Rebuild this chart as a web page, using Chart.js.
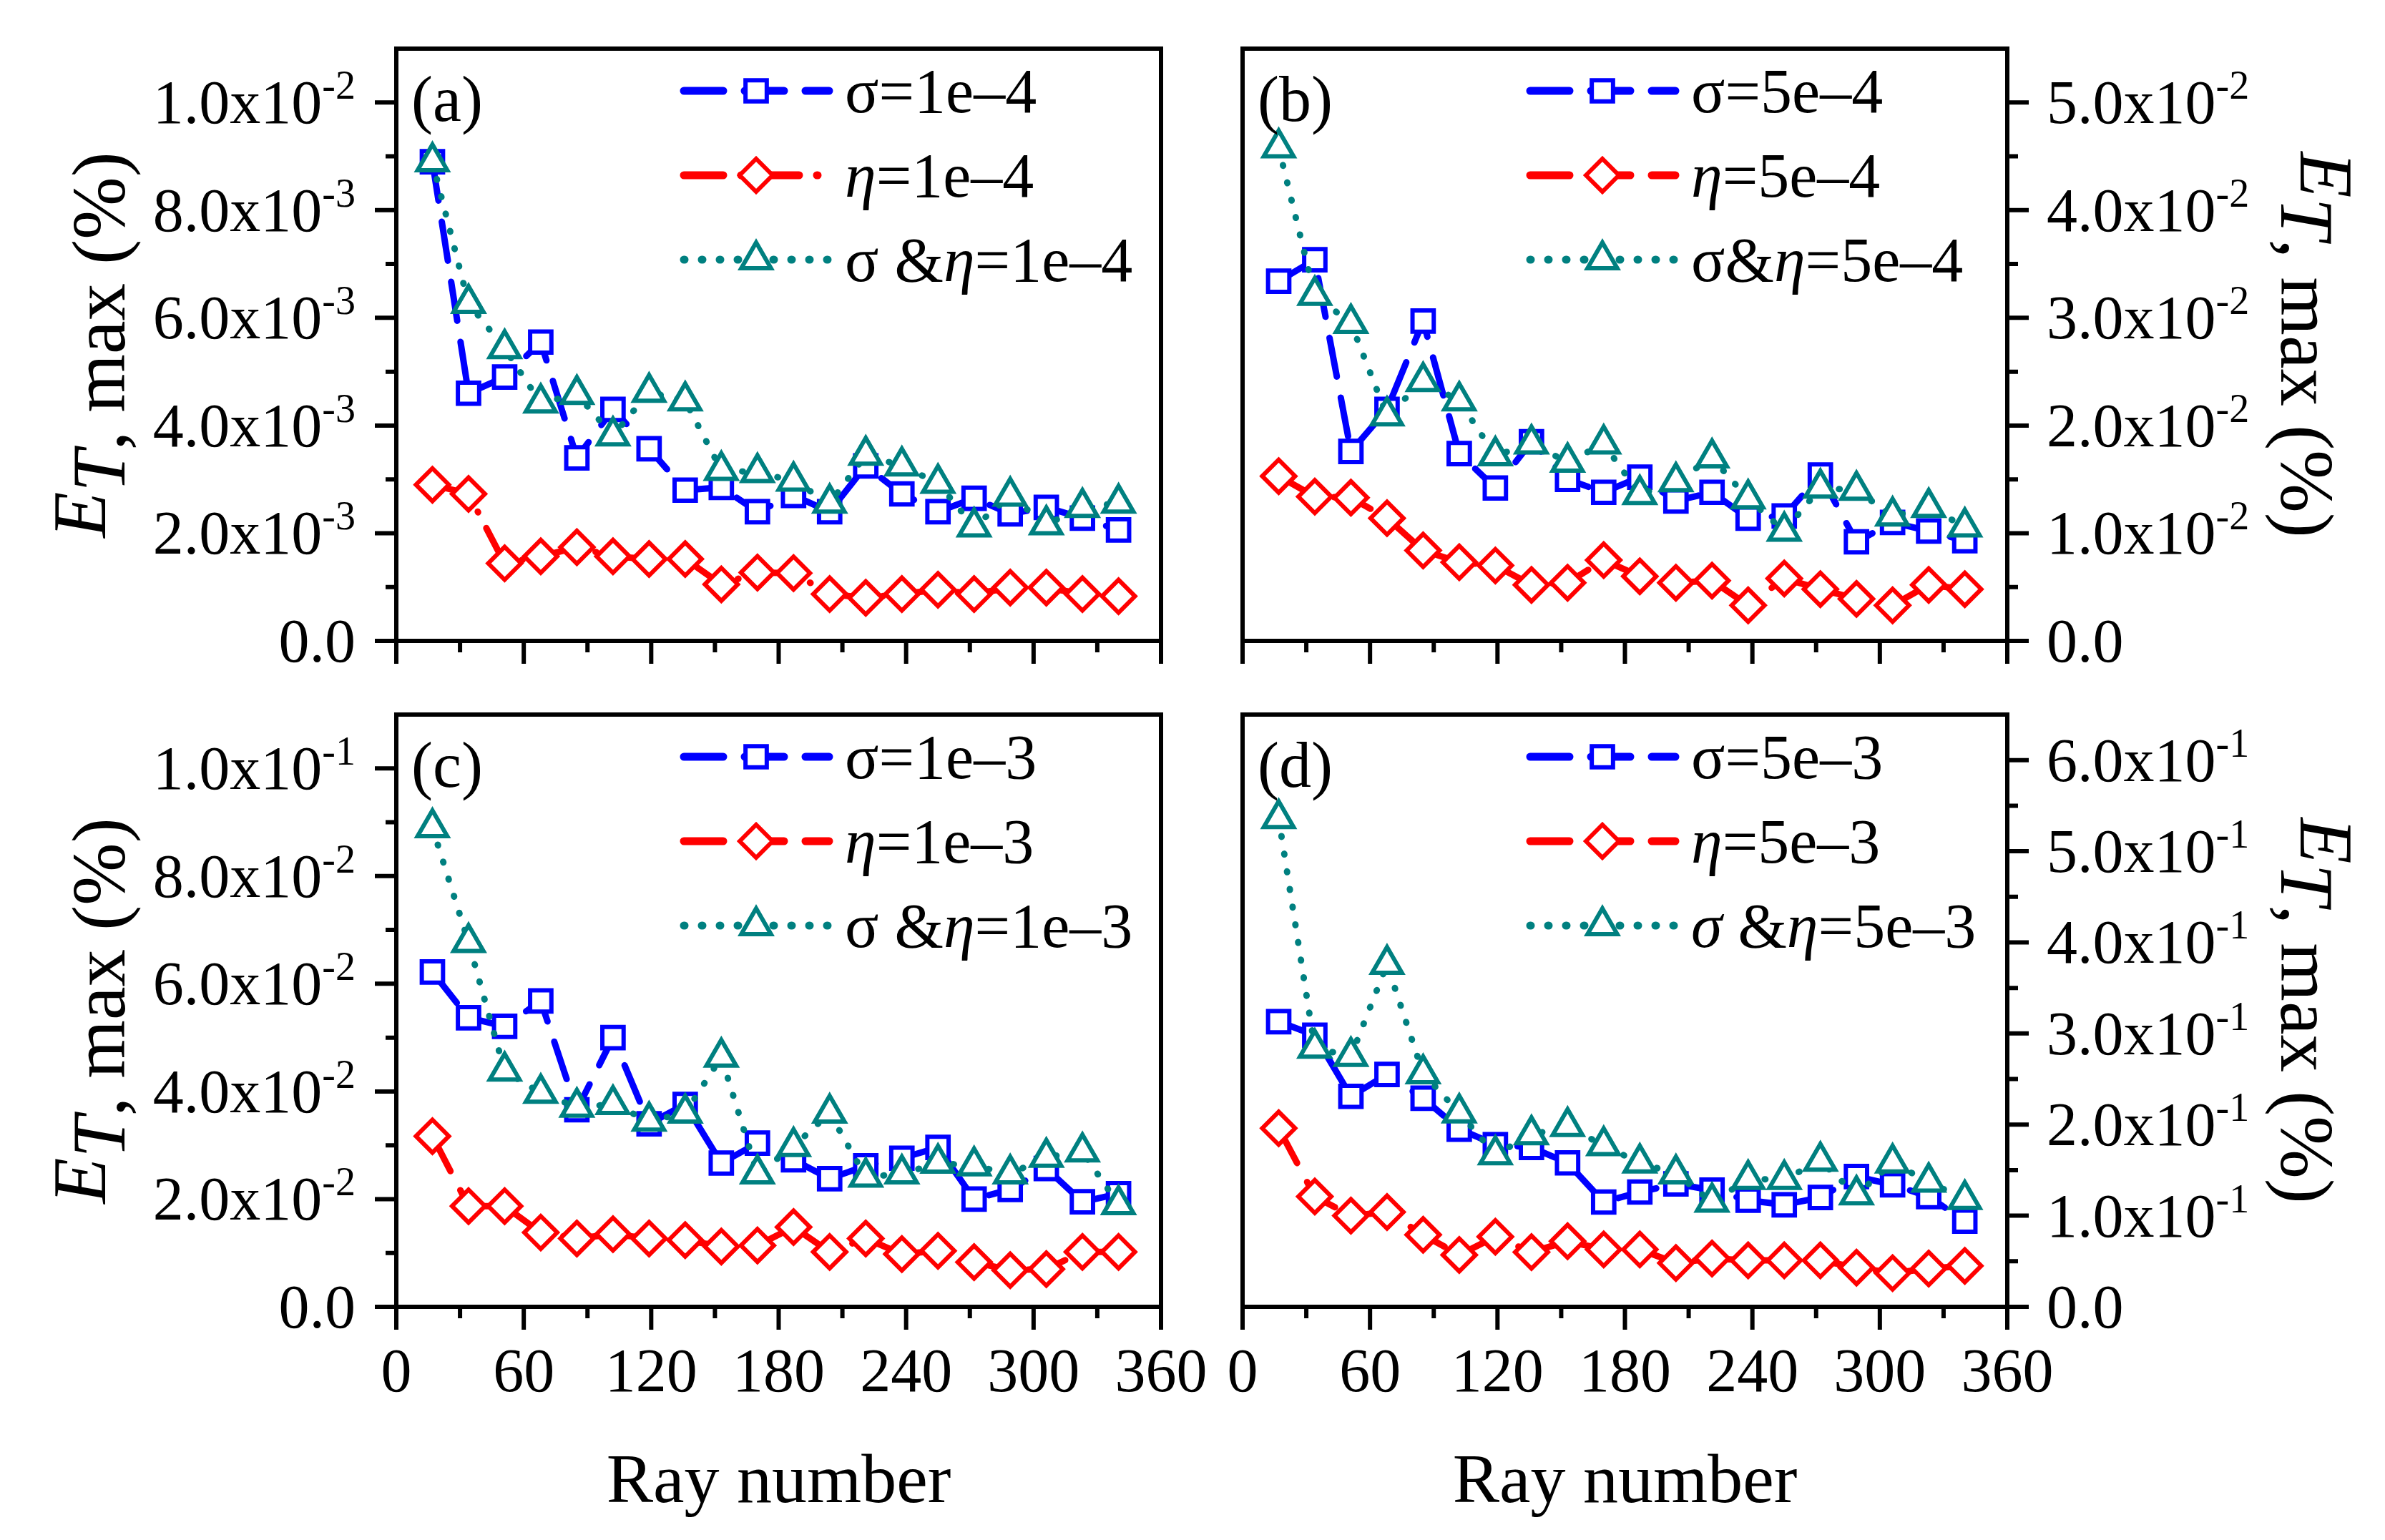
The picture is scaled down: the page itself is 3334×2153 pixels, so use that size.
<!DOCTYPE html>
<html>
<head>
<meta charset="utf-8">
<title>E_T max vs ray number</title>
<script src="https://cdn.jsdelivr.net/npm/chart.js@4.4.1/dist/chart.umd.min.js"></script>
<style>
  html, body { margin: 0; padding: 0; background: #fff; }
  #wrap { position: relative; width: 3334px; height: 2153px; background: #fff; }
  #wrap canvas { position: absolute; left: 0; top: 0; }
</style>
</head>
<body>
<div id="wrap">
  <canvas id="pa" width="3334" height="2153"></canvas>
  <canvas id="pb" width="3334" height="2153"></canvas>
  <canvas id="pc" width="3334" height="2153"></canvas>
  <canvas id="pd" width="3334" height="2153"></canvas>
</div>
<script>
// ray numbers shared by all four panels
const rayNumbers = [17, 34, 51, 68, 85, 102, 119, 136, 153, 170, 187, 204, 221, 238, 255, 272, 289, 306, 323, 340];

// (a) 1e-4
const sigmaA = [8.9e-3, 4.6e-3, 4.9e-3, 5.55e-3, 3.4e-3, 4.3e-3, 3.57e-3, 2.8e-3, 2.85e-3, 2.4e-3, 2.7e-3, 2.4e-3, 3.25e-3, 2.73e-3, 2.4e-3, 2.65e-3, 2.36e-3, 2.48e-3, 2.28e-3, 2.06e-3];
const etaA = [2.9e-3, 2.73e-3, 1.44e-3, 1.57e-3, 1.74e-3, 1.57e-3, 1.52e-3, 1.52e-3, 1.05e-3, 1.27e-3, 1.26e-3, 0.87e-3, 0.8e-3, 0.87e-3, 0.95e-3, 0.87e-3, 0.99e-3, 0.99e-3, 0.87e-3, 0.83e-3];
const bothA = [8.9e-3, 6.27e-3, 5.43e-3, 4.42e-3, 4.58e-3, 3.81e-3, 4.62e-3, 4.46e-3, 3.17e-3, 3.13e-3, 2.97e-3, 2.56e-3, 3.45e-3, 3.25e-3, 2.93e-3, 2.12e-3, 2.69e-3, 2.16e-3, 2.48e-3, 2.56e-3];

// (b) 5e-4
const sigmaB = [3.34e-2, 3.54e-2, 1.76e-2, 2.15e-2, 2.97e-2, 1.74e-2, 1.42e-2, 1.85e-2, 1.5e-2, 1.38e-2, 1.52e-2, 1.3e-2, 1.38e-2, 1.14e-2, 1.16e-2, 1.54e-2, 0.92e-2, 1.1e-2, 1.02e-2, 0.93e-2];
const etaB = [1.53e-2, 1.34e-2, 1.33e-2, 1.14e-2, 0.84e-2, 0.73e-2, 0.7e-2, 0.52e-2, 0.54e-2, 0.75e-2, 0.6e-2, 0.54e-2, 0.56e-2, 0.33e-2, 0.58e-2, 0.48e-2, 0.39e-2, 0.33e-2, 0.52e-2, 0.48e-2];
const bothB = [4.58e-2, 3.21e-2, 2.95e-2, 2.09e-2, 2.41e-2, 2.23e-2, 1.72e-2, 1.83e-2, 1.66e-2, 1.83e-2, 1.36e-2, 1.48e-2, 1.7e-2, 1.32e-2, 1.02e-2, 1.42e-2, 1.4e-2, 1.16e-2, 1.24e-2, 1.06e-2];

// (c) 1e-3
const sigmaC = [6.22e-2, 5.37e-2, 5.21e-2, 5.68e-2, 3.66e-2, 5.0e-2, 3.4e-2, 3.76e-2, 2.67e-2, 3.04e-2, 2.73e-2, 2.38e-2, 2.62e-2, 2.76e-2, 2.96e-2, 2.0e-2, 2.18e-2, 2.57e-2, 1.95e-2, 2.1e-2];
const etaC = [3.17e-2, 1.87e-2, 1.87e-2, 1.38e-2, 1.27e-2, 1.35e-2, 1.27e-2, 1.24e-2, 1.12e-2, 1.14e-2, 1.48e-2, 1.02e-2, 1.27e-2, 0.98e-2, 1.04e-2, 0.83e-2, 0.68e-2, 0.7e-2, 1.02e-2, 1.02e-2];
const bothC = [8.9e-2, 6.77e-2, 4.38e-2, 3.97e-2, 3.71e-2, 3.76e-2, 3.45e-2, 3.6e-2, 4.64e-2, 2.47e-2, 2.98e-2, 3.6e-2, 2.41e-2, 2.47e-2, 2.67e-2, 2.62e-2, 2.47e-2, 2.78e-2, 2.88e-2, 1.9e-2];

// (d) 5e-3
const sigmaD = [0.313, 0.298, 0.231, 0.255, 0.229, 0.195, 0.178, 0.175, 0.158, 0.115, 0.126, 0.135, 0.128, 0.117, 0.112, 0.12, 0.143, 0.134, 0.121, 0.094];
const etaD = [0.196, 0.121, 0.100, 0.104, 0.079, 0.057, 0.077, 0.060, 0.072, 0.063, 0.063, 0.048, 0.053, 0.051, 0.051, 0.051, 0.043, 0.037, 0.042, 0.045];
const bothD = [0.536, 0.284, 0.275, 0.376, 0.256, 0.213, 0.167, 0.189, 0.198, 0.177, 0.158, 0.146, 0.115, 0.140, 0.140, 0.160, 0.123, 0.158, 0.137, 0.118];

// axis ticks and labels ('^' marks the superscript part)
const xTicks = [0, 60, 120, 180, 240, 300, 360];
const xLabels = ['0', '60', '120', '180', '240', '300', '360'];
const yTicksA = [0, 0.002, 0.004, 0.006, 0.008, 0.010];
const yLabelsA = ['0.0', '2.0x10^-3', '4.0x10^-3', '6.0x10^-3', '8.0x10^-3', '1.0x10^-2'];
const yTicksB = [0, 0.01, 0.02, 0.03, 0.04, 0.05];
const yLabelsB = ['0.0', '1.0x10^-2', '2.0x10^-2', '3.0x10^-2', '4.0x10^-2', '5.0x10^-2'];
const yTicksC = [0, 0.02, 0.04, 0.06, 0.08, 0.10];
const yLabelsC = ['0.0', '2.0x10^-2', '4.0x10^-2', '6.0x10^-2', '8.0x10^-2', '1.0x10^-1'];
const yTicksD = [0, 0.1, 0.2, 0.3, 0.4, 0.5, 0.6];
const yLabelsD = ['0.0', '1.0x10^-1', '2.0x10^-1', '3.0x10^-1', '4.0x10^-1', '5.0x10^-1', '6.0x10^-1'];

// legend texts ('*' toggles italic)
const legendA = ['σ=1e–4', '*η*=1e–4', 'σ &*η*=1e–4'];
const legendB = ['σ=5e–4', '*η*=5e–4', 'σ&*η*=5e–4'];
const legendC = ['σ=1e–3', '*η*=1e–3', 'σ &*η*=1e–3'];
const legendD = ['σ=5e–3', '*η*=5e–3', '*σ* &*η*=5e–3'];

const FONT = '"Liberation Serif", "Times New Roman", serif';

const styleSigma = { color: '#0000ff', pointStyle: 'rect', radius: 21, dash: [55, 30] };
const styleEta = { color: '#ff0000', pointStyle: 'rectRot', radius: 23, dash: [55, 30] };
const styleBoth = { color: '#008080', pointStyle: 'triangle', radius: 24, dash: [1, 24] };

function fontOf(p) {
    return (p.italic ? 'italic ' : '') + p.size + 'px ' + FONT;
}

// draw a run of text pieces with different fonts / offsets on one baseline
function drawParts(ctx, parts, x, y, align) {
    let total = 0;
    parts.forEach(p => {
        ctx.font = fontOf(p);
        p.w = ctx.measureText(p.t).width;
        total += p.w;
    });
    let cx = x;
    if (align === 'right') cx = x - total;
    if (align === 'center') cx = x - total / 2;
    ctx.textAlign = 'left';
    ctx.textBaseline = 'alphabetic';
    parts.forEach(p => {
        ctx.font = fontOf(p);
        ctx.fillText(p.t, cx, y + (p.dy || 0));
        cx += p.w;
    });
}

function tickParts(label) {
    const bits = label.split('^');
    const parts = [{ t: bits[0], size: 86 }];
    if (bits[1]) parts.push({ t: bits[1], size: 56, dy: -34 });
    return parts;
}

function legendParts(text) {
    return text.split('*')
        .map((t, i) => ({ t: t, italic: i % 2 === 1, size: 88 }))
        .filter(p => p.t.length > 0);
}

function titleParts() {
    return [
        { t: 'E', italic: true, size: 105, dy: -27 },
        { t: 'T', italic: true, size: 105 },
        { t: ', max (%)', size: 105 }
    ];
}

function decoPlugin(panel) {
    return {
        id: 'deco' + panel.canvas,
        afterDraw(chart) {
            const ctx = chart.ctx;
            const ca = chart.chartArea;
            const xs = chart.scales.x;
            const ys = chart.scales.y;
            ctx.save();
            ctx.setLineDash([]);
            ctx.strokeStyle = '#000';
            ctx.fillStyle = '#000';
            ctx.lineWidth = 6;
            ctx.lineCap = 'butt';

            // frame
            ctx.strokeRect(ca.left, ca.top, ca.right - ca.left, ca.bottom - ca.top);

            // bottom ticks (major + minor)
            ctx.beginPath();
            xTicks.forEach((v, i) => {
                const px = xs.getPixelForValue(v);
                ctx.moveTo(px, ca.bottom);
                ctx.lineTo(px, ca.bottom + 32);
                if (i < xTicks.length - 1) {
                    const pm = xs.getPixelForValue((v + xTicks[i + 1]) / 2);
                    ctx.moveTo(pm, ca.bottom);
                    ctx.lineTo(pm, ca.bottom + 16);
                }
            });
            // y ticks on the outer side
            const dir = panel.side === 'left' ? -1 : 1;
            const edge = panel.side === 'left' ? ca.left : ca.right;
            panel.yTicks.forEach((v, i) => {
                const py = ys.getPixelForValue(v);
                ctx.moveTo(edge, py);
                ctx.lineTo(edge + dir * 30, py);
                if (i < panel.yTicks.length - 1) {
                    const pm = ys.getPixelForValue((v + panel.yTicks[i + 1]) / 2);
                    ctx.moveTo(edge, pm);
                    ctx.lineTo(edge + dir * 15, pm);
                }
            });
            ctx.stroke();

            // y tick labels
            panel.yTicks.forEach((v, i) => {
                const py = ys.getPixelForValue(v);
                if (panel.side === 'left') {
                    drawParts(ctx, tickParts(panel.yLabels[i]), ca.left - 57, py + 29, 'right');
                } else {
                    drawParts(ctx, tickParts(panel.yLabels[i]), ca.right + 55, py + 29, 'left');
                }
            });

            // x tick labels and title for the bottom row
            if (panel.xLabels) {
                xTicks.forEach((v, i) => {
                    drawParts(ctx, [{ t: xLabels[i], size: 86 }], xs.getPixelForValue(v), ca.bottom + 118, 'center');
                });
                drawParts(ctx, [{ t: 'Ray number', size: 98 }], (ca.left + ca.right) / 2, ca.bottom + 273, 'center');
            }

            // y axis title
            const midY = (ca.top + ca.bottom) / 2;
            ctx.save();
            if (panel.side === 'left') {
                ctx.translate(ca.left - 380, midY);
                ctx.rotate(-Math.PI / 2);
            } else {
                ctx.translate(ca.right + 383, midY);
                ctx.rotate(Math.PI / 2);
            }
            drawParts(ctx, titleParts(), 0, 0, 'center');
            ctx.restore();

            // panel tag
            drawParts(ctx, [{ t: panel.tag, size: 90 }], ca.left + 21, ca.top + 101, 'left');

            // legend
            const rows = [
                { style: styleSigma, dash: styleSigma.dash },
                { style: styleEta, dash: panel.redDash || styleEta.dash },
                { style: styleBoth, dash: styleBoth.dash }
            ];
            rows.forEach((r, i) => {
                const y = ca.top + 59 + 118 * i;
                ctx.save();
                ctx.strokeStyle = r.style.color;
                ctx.lineWidth = 11;
                ctx.lineCap = 'round';
                ctx.setLineDash(r.dash);
                ctx.beginPath();
                ctx.moveTo(ca.left + 402, y);
                ctx.lineTo(ca.left + 605, y);
                ctx.stroke();
                ctx.setLineDash([]);
                ctx.lineCap = 'butt';
                ctx.fillStyle = '#fff';
                ctx.lineWidth = 6;
                if (Chart.helpers && Chart.helpers.drawPoint) {
                    Chart.helpers.drawPoint(ctx, {
                        pointStyle: r.style.pointStyle,
                        radius: r.style.radius,
                        borderWidth: 6,
                        rotation: 0
                    }, ca.left + 503, y);
                }
                ctx.restore();
                ctx.fillStyle = '#000';
                drawParts(ctx, legendParts(panel.legend[i]), ca.left + 627, y + 30, 'left');
            });
            ctx.restore();
        }
    };
}

function makeDataset(values, style, dash) {
    return {
        data: values.map((v, i) => ({ x: rayNumbers[i], y: v })),
        borderColor: style.color,
        borderWidth: 9,
        borderDash: dash || style.dash,
        borderCapStyle: 'round',
        tension: 0,
        pointStyle: style.pointStyle,
        pointRadius: style.radius,
        pointHoverRadius: style.radius,
        pointBorderWidth: 6,
        pointBorderColor: style.color,
        pointBackgroundColor: '#fff',
        fill: false,
        clip: false
    };
}

const panels = [
    { canvas: 'pa', tag: '(a)', box: { left: 554, right: 1623, top: 68, bottom: 896 }, yMax: 0.011, side: 'left',
      xLabels: false, yTicks: yTicksA, yLabels: yLabelsA, sigma: sigmaA, eta: etaA, both: bothA, legend: legendA,
      redDash: [55, 25, 1, 25] },
    { canvas: 'pb', tag: '(b)', box: { left: 1737, right: 2806, top: 68, bottom: 896 }, yMax: 0.055, side: 'right',
      xLabels: false, yTicks: yTicksB, yLabels: yLabelsB, sigma: sigmaB, eta: etaB, both: bothB, legend: legendB },
    { canvas: 'pc', tag: '(c)', box: { left: 554, right: 1623, top: 999, bottom: 1827 }, yMax: 0.11, side: 'left',
      xLabels: true, yTicks: yTicksC, yLabels: yLabelsC, sigma: sigmaC, eta: etaC, both: bothC, legend: legendC },
    { canvas: 'pd', tag: '(d)', box: { left: 1737, right: 2806, top: 999, bottom: 1827 }, yMax: 0.65, side: 'right',
      xLabels: true, yTicks: yTicksD, yLabels: yLabelsD, sigma: sigmaD, eta: etaD, both: bothD, legend: legendD }
];

panels.forEach(panel => {
    const canvas = document.getElementById(panel.canvas);
    const ctx = canvas.getContext('2d');
    new Chart(ctx, {
        type: 'line',
        data: {
            // first dataset is painted last, so the triangles sit on top
            datasets: [
                makeDataset(panel.both, styleBoth),
                makeDataset(panel.sigma, styleSigma),
                makeDataset(panel.eta, styleEta, panel.redDash)
            ]
        },
        options: {
            responsive: false,
            animation: false,
            devicePixelRatio: 1,
            layout: {
                padding: {
                    left: panel.box.left,
                    top: panel.box.top,
                    right: 3334 - panel.box.right,
                    bottom: 2153 - panel.box.bottom
                }
            },
            scales: {
                x: { type: 'linear', min: 0, max: 360, display: false },
                y: { type: 'linear', min: 0, max: panel.yMax, display: false }
            },
            plugins: {
                legend: { display: false },
                tooltip: { enabled: false }
            },
            events: []
        },
        plugins: [decoPlugin(panel)]
    });
});
</script>
</body>
</html>
